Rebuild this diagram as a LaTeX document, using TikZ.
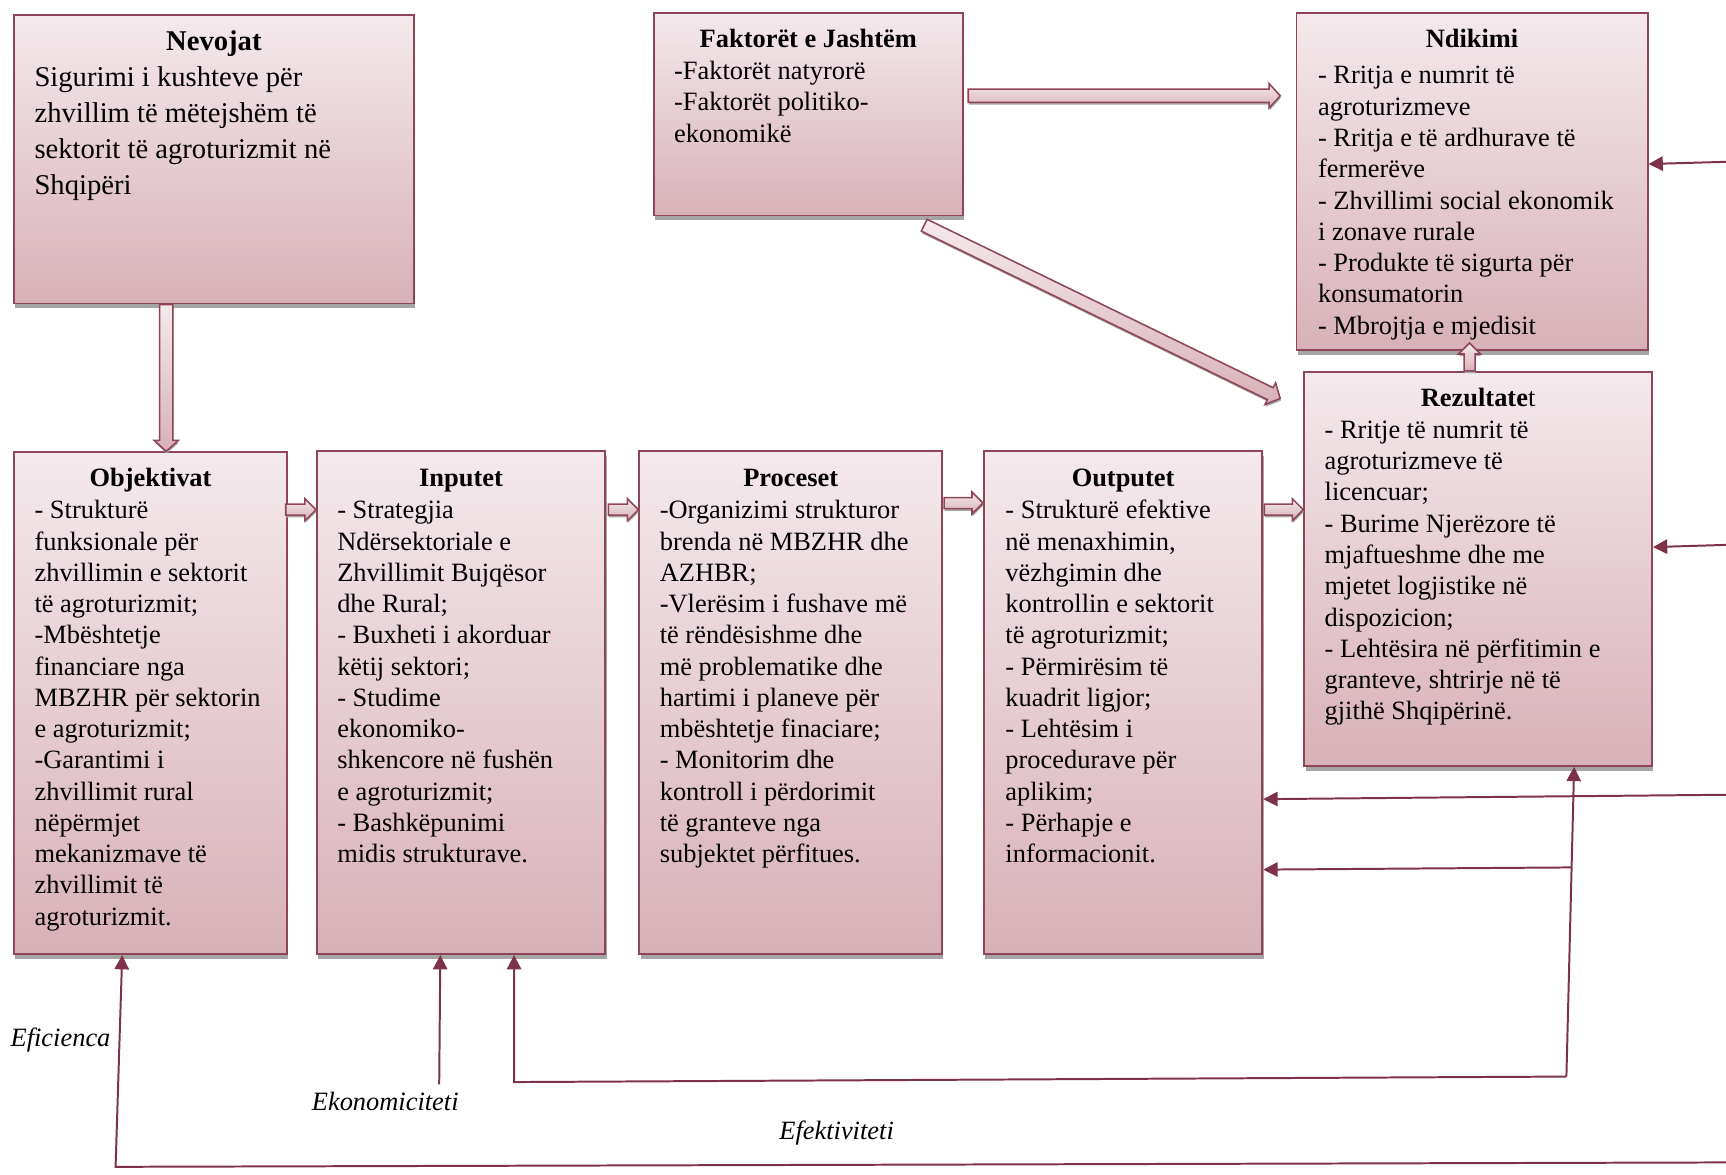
\documentclass[tikz,border=0pt]{standalone}
\usepackage{fontspec}
\setmainfont{Liberation Serif}
\usetikzlibrary{arrows.meta,calc,shadows}
\definecolor{RoseTop}{RGB}{244,233,236}
\definecolor{RoseBottom}{RGB}{216,177,184}
\definecolor{RoseLine}{RGB}{142,68,89}
\definecolor{LinkRed}{RGB}{125,50,73}
\definecolor{ShadowGray}{RGB}{165,165,165}

\tikzset{
  panel/.style={draw=RoseLine, line width=0.8pt, top color=RoseTop, bottom color=RoseBottom,
    anchor=north west, inner sep=0pt,
    drop shadow={shadow xshift=0.6pt, shadow yshift=-2.2pt, fill=ShadowGray, opacity=1}},
  boxsize/.style 2 args={minimum width=#1*0.5pt, minimum height=#2*0.5pt},
  title/.style={font=\fontsize{12}{14.2}\selectfont\bfseries, anchor=base, inner sep=0pt},
  body/.style={font=\fontsize{12}{14.2}\selectfont, align=left, anchor=north west, inner sep=0pt},
  fatarrow/.style={draw=RoseLine, line width=0.7pt, top color=RoseTop, bottom color=RoseBottom,
    drop shadow={shadow xshift=0.3pt, shadow yshift=-1pt, fill=ShadowGray, opacity=1}},
  link/.style={draw=LinkRed, line width=0.9pt, -{Triangle[length=6.5pt,width=6.5pt]}},
  measure/.style={font=\fontsize{12}{14.2}\selectfont\itshape, inner sep=0pt},
}

% hollow block arrow: #1 half shaft width, #2 tail, #3 tip
\newcommand{\fatarrow}[3]{%
  \path[fatarrow] let \p1=(#2), \p2=(#3),
      \n1={atan2(\y2-\y1,\x2-\x1)}, \n2={veclen(\x2-\x1,\y2-\y1)} in
    [shift={(\p1)}, rotate=\n1]
    (0pt,-#1) -- ({\n2-5pt},-#1) -- ({\n2-5pt},{-#1-2.5pt}) -- ({\n2-0pt},0pt)
    -- ({\n2-5pt},{#1+2.5pt}) -- ({\n2-5pt},#1) -- (0pt,#1) -- cycle;}

\begin{document}
\begin{tikzpicture}[x=0.5pt, y=-0.5pt]
  \useasboundingbox (0,0) rectangle (1568,1067);

  % Boxes
  \node[panel, boxsize={363}{262}] (nevojat) at (12,13) {};
  \node[panel, boxsize={281}{184}] (faktoret) at (593,11) {};
  \node[panel, boxsize={319}{306}] (ndikimi) at (1177,11) {};
  \node[panel, boxsize={316}{358}] (rezultatet) at (1184,337) {};
  \node[panel, boxsize={248}{456}] (objektivat) at (12,410) {};
  \node[panel, boxsize={262}{457}] (inputet) at (287,409) {};
  \node[panel, boxsize={275}{457}] (proceset) at (580,409) {};
  \node[panel, boxsize={253}{457}] (outputet) at (893,409) {};

  % Block arrows
  \coordinate (need foot) at ($(objektivat.north west)+(139,0)$);
  \fatarrow{3pt}{need foot |- nevojat.south}{need foot}
  \coordinate (objektivat out) at ($(objektivat.north east)+(-2,53)$);
  \fatarrow{2.5pt}{objektivat out}{objektivat out -| inputet.west}
  \coordinate (inputet out) at ($(inputet.north east)+(2,54)$);
  \fatarrow{2.5pt}{inputet out}{inputet out -| proceset.west}
  \coordinate (proceset out) at ($(proceset.north east)+(1,48)$);
  \fatarrow{2.5pt}{proceset out}{proceset out -| outputet.west}
  \coordinate (outputet out) at ($(outputet.north east)+(1,54)$);
  \fatarrow{2.5pt}{outputet out}{outputet out -| rezultatet.west}
  \fatarrow{3pt}{$(faktoret.north east)+(4,76)$}{$(ndikimi.north west)+(-14,76)$}
  \fatarrow{3pt}{$(faktoret.south east)+(-36,8)$}{$(rezultatet.north west)+(-21,25)$}
  \fatarrow{2.5pt}{$(rezultatet.north west)+(151,0)$}{$(ndikimi.south west)+(158,-7)$}

  % Nevojat
  \node[title] (nevojat title) at ($(nevojat.north)+(0,33)$) {\fontsize{13}{16.35}\selectfont Nevojat};
  \node[body, font=\fontsize{13}{16.35}\selectfont] (nevojat text) at ($(nevojat.north west)+(19,42)$)
    {\strut Sigurimi i kushteve për\\zhvillim të mëtejshëm të\\sektorit të agroturizmit në\\Shqipëri};

  % Faktoret e Jashtem
  \node[title] (faktoret title) at ($(faktoret.north)+(0,32)$) {Faktorët e Jashtëm};
  \node[body] (faktoret text) at ($(faktoret.north west)+(19,41)$)
    {\strut -Faktorët natyrorë\\-Faktorët politiko-\\ekonomikë};

  % Ndikimi
  \node[title] (ndikimi title) at ($(ndikimi.north)+(0,32)$) {Ndikimi};
  \node[body] (ndikimi text) at ($(ndikimi.north west)+(20,45)$)
    {\strut - Rritja e numrit të\\agroturizmeve\\- Rritja e të ardhurave të\\fermerëve\\
     - Zhvillimi social ekonomik\\i zonave rurale\\- Produkte të sigurta për\\konsumatorin\\
     - Mbrojtja e mjedisit};

  % Rezultatet
  \node[title] (rezultatet title) at ($(rezultatet.north)+(0,32)$) {Rezultate\mdseries t};
  \node[body] (rezultatet text) at ($(rezultatet.north west)+(19,41)$)
    {\strut - Rritje të numrit të\\agroturizmeve të\\licencuar;\\- Burime Njerëzore të\\
     mjaftueshme dhe me\\mjetet logjistike në\\dispozicion;\\- Lehtësira në përfitimin e\\
     granteve, shtrirje në të\\gjithë Shqipërinë.};

  % Objektivat
  \node[title] (objektivat title) at ($(objektivat.north)+(0,32)$) {Objektivat};
  \node[body] (objektivat text) at ($(objektivat.north west)+(19,41)$)
    {\strut - Strukturë\\funksionale për\\zhvillimin e sektorit\\të agroturizmit;\\
     -Mbështetje\\financiare nga\\MBZHR për sektorin\\e agroturizmit;\\-Garantimi i\\
     zhvillimit rural\\nëpërmjet\\mekanizmave të\\zhvillimit të\\agroturizmit.};

  % Inputet
  \node[title] (inputet title) at ($(inputet.north)+(0,33)$) {Inputet};
  \node[body] (inputet text) at ($(inputet.north west)+(19,42)$)
    {\strut - Strategjia\\Ndërsektoriale e\\Zhvillimit Bujqësor\\dhe Rural;\\
     - Buxheti i akorduar\\këtij sektori;\\- Studime\\ekonomiko-\\shkencore në fushën\\
     e agroturizmit;\\- Bashkëpunimi\\midis strukturave.};

  % Proceset
  \node[title] (proceset title) at ($(proceset.north)+(0,33)$) {Proceset};
  \node[body] (proceset text) at ($(proceset.north west)+(19,42)$)
    {\strut -Organizimi strukturor\\brenda në MBZHR dhe\\AZHBR;\\-Vlerësim i fushave më\\
     të rëndësishme dhe\\më problematike dhe\\hartimi i planeve për\\mbështetje finaciare;\\
     - Monitorim dhe\\kontroll i përdorimit\\të granteve nga\\subjektet përfitues.};

  % Outputet
  \node[title] (outputet title) at ($(outputet.north)+(0,33)$) {Outputet};
  \node[body] (outputet text) at ($(outputet.north west)+(20,42)$)
    {\strut - Strukturë efektive\\në menaxhimin,\\vëzhgimin dhe\\kontrollin e sektorit\\
     të agroturizmit;\\- Përmirësim të\\kuadrit ligjor;\\- Lehtësim i\\procedurave për\\
     aplikim;\\- Përhapje e\\informacionit.};

  % Feedback lines
  \coordinate (edge ndikimi) at (1568,147);
  \coordinate (edge rezultatet) at (1568,495);
  \coordinate (edge outputet) at (1568,722);
  \coordinate (return outputet) at (1428,788);
  \coordinate (effect corner) at (1423,978);
  \coordinate (input corner) at (467,983);
  \coordinate (econ foot) at (399,985);
  \coordinate (eff right) at (1568,1056);
  \coordinate (eff left) at (105,1060);
  \draw[link] (edge ndikimi) -- ($(ndikimi.north east)+(0,138)$);
  \draw[link] (edge rezultatet) -- ($(rezultatet.north east)+(0,160)$);
  \draw[link] (edge outputet) -- ($(outputet.north east)+(0,317)$);
  \draw[link] (return outputet) -- ($(outputet.north east)+(0,381)$);
  \draw[link] (effect corner) -- ($(rezultatet.south west)+(246,0)$);
  \draw[link] (effect corner) -- (input corner) -- ($(inputet.south west)+(180,0)$);
  \draw[link] (econ foot) -- ($(inputet.south west)+(113,0)$);
  \draw[link] (eff right) -- (eff left) -- ($(objektivat.south west)+(99,0)$);

  % Measures
  \node[measure] (eficienca) at (55,945) {Eficienca};
  \node[measure] (ekonomiciteti) at (350,1001) {Ekonomiciteti};
  \node[measure] (efektiviteti) at (760,1029) {Efektiviteti};
\end{tikzpicture}
\end{document}
